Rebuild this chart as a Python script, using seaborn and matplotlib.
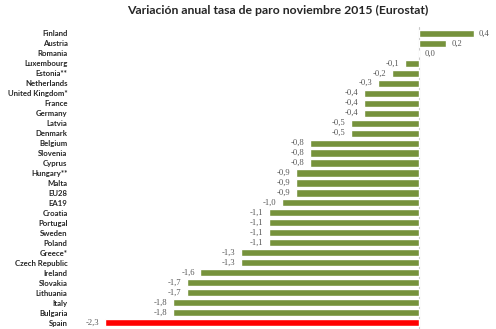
import matplotlib
matplotlib.use("Agg")
import matplotlib.pyplot as plt
import seaborn as sns
import pandas as pd

countries = ["Finland", "Austria", "Romania", "Luxembourg", "Estonia**", "Netherlands",
             "United Kingdom*", "France", "Germany", "Latvia", "Denmark", "Belgium",
             "Slovenia", "Cyprus", "Hungary**", "Malta", "EU28", "EA19", "Croatia",
             "Portugal", "Sweden", "Poland", "Greece*", "Czech Republic", "Ireland",
             "Slovakia", "Lithuania", "Italy", "Bulgaria", "Spain"]
values = [0.4, 0.2, 0.0, -0.1, -0.2, -0.3, -0.4, -0.4, -0.4, -0.5, -0.5, -0.8,
          -0.8, -0.8, -0.9, -0.9, -0.9, -1.0, -1.1, -1.1, -1.1, -1.1, -1.3, -1.3,
          -1.6, -1.7, -1.7, -1.8, -1.8, -2.3]
highlight = "Spain"
title = "Variación anual tasa de paro noviembre 2015 (Eurostat)"

GREEN = "#76923C"
RED = "#FF0000"

df = pd.DataFrame({"country": countries, "value": values})
palette = {c: (RED if c == highlight else GREEN) for c in countries}

sns.set_style("white")
plt.rcParams["font.family"] = ["Lato", "DejaVu Sans"]

fig = plt.figure(figsize=(4.96, 3.29), dpi=100)
ax = fig.add_axes([0.153, 0.0, 0.843, 0.918])

sns.barplot(data=df, x="value", y="country", hue="country", palette=palette,
            order=countries, orient="h", width=0.72, legend=False, ax=ax,
            saturation=1)

ax.set_xlim(-2.51, 0.55)
ax.set_ylim(len(countries) - 0.35, -0.65)
ax.axvline(0, color="#C8C8C8", lw=0.8, zorder=0)
for s in ax.spines.values():
    s.set_visible(False)
ax.set_xticks([])
ax.set_xlabel("")
ax.set_ylabel("")
ax.tick_params(axis="y", length=0, pad=6)
for lbl in ax.get_yticklabels():
    lbl.set_fontsize(5.6)
    lbl.set_fontweight("bold")
    lbl.set_color("#262626")

for i, v in enumerate(values):
    txt = f"{v:.1f}".replace(".", ",")
    if v < 0:
        ax.text(v - 0.04, i, txt, ha="right", va="center", fontsize=6.2,
                color="#595959", family="Liberation Serif")
    else:
        ax.text(v + 0.04, i, txt, ha="left", va="center", fontsize=6.2,
                color="#595959", family="Liberation Serif")

fig.text(0.56, 0.968, title, ha="center", va="center", fontsize=8.8,
         fontweight="bold", color="#262626")

fig.savefig("out.png", dpi=100)
